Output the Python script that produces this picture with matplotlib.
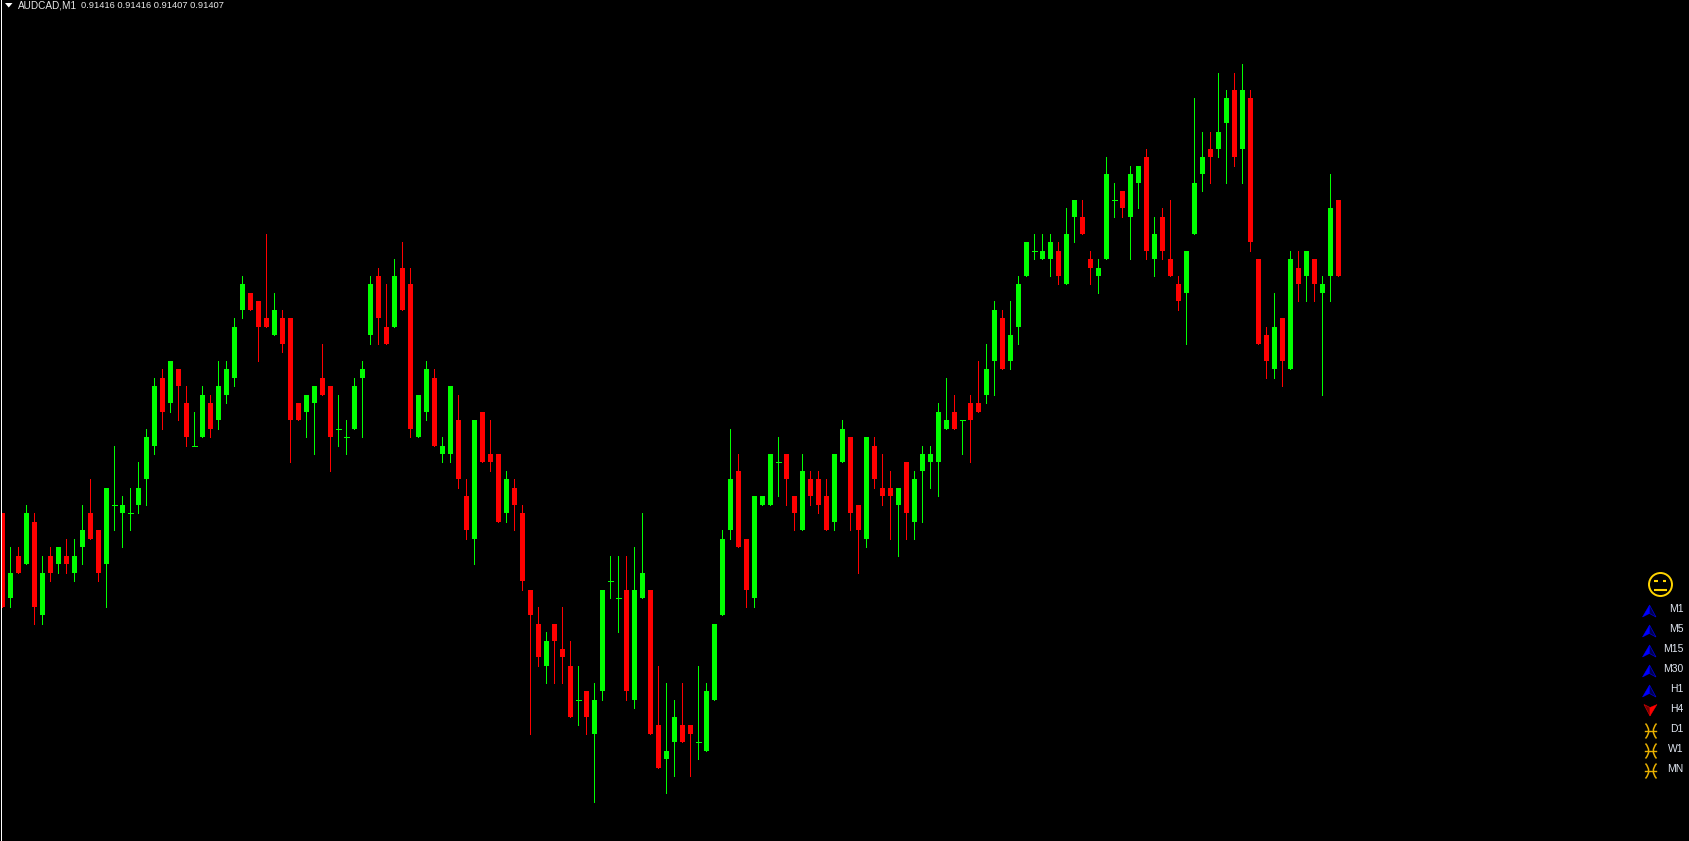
import numpy as np
import matplotlib
matplotlib.use("Agg")
import matplotlib.pyplot as plt
from matplotlib.patches import Circle, Polygon, PathPatch
from matplotlib.path import Path

# prices in points (0.91407 -> 91407), one minute bars
opens = [91379, 91369, 91374, 91373, 91378, 91367, 91374, 91373, 91374, 91372, 91375, 91379,
         91377, 91373, 91380, 91379, 91379, 91380, 91383, 91387, 91395, 91392, 91396, 91392,
         91387, 91388, 91392, 91390, 91393, 91395, 91403, 91405, 91404, 91402, 91400, 91402,
         91402, 91392, 91391, 91392, 91395, 91394, 91389, 91388, 91389, 91395, 91400, 91407,
         91401, 91401, 91408, 91406, 91388, 91391, 91395, 91386, 91386, 91390, 91381, 91376,
         91391, 91386, 91386, 91379, 91382, 91379, 91370, 91366, 91361, 91366, 91363, 91361,
         91357, 91358, 91353, 91358, 91371, 91369, 91370, 91357, 91369, 91370, 91354, 91350,
         91352, 91354, 91354, 91352, 91351, 91357, 91367, 91377, 91384, 91376, 91369, 91380,
         91380, 91385, 91386, 91381, 91377, 91383, 91383, 91381, 91378, 91385, 91388, 91380,
         91376, 91387, 91382, 91382, 91380, 91385, 91378, 91384, 91385, 91385, 91389, 91391,
         91390, 91392, 91392, 91393, 91397, 91402, 91397, 91401, 91407, 91410, 91409, 91409,
         91410, 91406, 91414, 91414, 91409, 91407, 91409, 91416, 91417, 91414, 91418, 91421,
         91409, 91414, 91409, 91406, 91405, 91412, 91419, 91422, 91422, 91425, 91429, 91422,
         91428, 91409, 91400, 91396, 91402, 91396, 91408, 91407, 91409, 91405, 91407, 91416]
highs = [91379, 91375, 91375, 91380, 91379, 91374, 91375, 91375, 91376, 91376, 91380, 91383,
         91377, 91382, 91387, 91381, 91382, 91385, 91389, 91395, 91396, 91397, 91396, 91394,
         91391, 91394, 91393, 91397, 91397, 91402, 91407, 91405, 91404, 91412, 91405, 91403,
         91402, 91392, 91393, 91394, 91399, 91394, 91393, 91390, 91395, 91397, 91407, 91408,
         91406, 91409, 91411, 91408, 91393, 91397, 91396, 91388, 91394, 91393, 91383, 91390,
         91391, 91390, 91386, 91384, 91383, 91380, 91370, 91368, 91365, 91366, 91368, 91364,
         91361, 91358, 91359, 91370, 91374, 91374, 91374, 91375, 91379, 91370, 91361, 91359,
         91357, 91359, 91354, 91361, 91359, 91366, 91377, 91389, 91386, 91376, 91381, 91381,
         91386, 91388, 91386, 91381, 91386, 91384, 91384, 91383, 91386, 91390, 91388, 91380,
         91388, 91388, 91386, 91384, 91382, 91385, 91384, 91387, 91387, 91392, 91395, 91393,
         91390, 91393, 91397, 91399, 91404, 91403, 91404, 91407, 91411, 91412, 91412, 91412,
         91411, 91415, 91416, 91416, 91410, 91409, 91421, 91418, 91417, 91420, 91420, 91422,
         91414, 91415, 91416, 91407, 91410, 91428, 91424, 91424, 91431, 91429, 91431, 91432,
         91429, 91409, 91401, 91405, 91402, 91410, 91410, 91410, 91409, 91407, 91419, 91416]
lows = [91368, 91368, 91372, 91373, 91366, 91366, 91371, 91372, 91372, 91371, 91373, 91376,
        91371, 91368, 91377, 91375, 91377, 91379, 91380, 91386, 91389, 91391, 91390, 91387,
        91387, 91388, 91388, 91389, 91392, 91394, 91402, 91403, 91397, 91401, 91400, 91398,
        91385, 91390, 91388, 91386, 91393, 91384, 91387, 91386, 91389, 91388, 91399, 91399,
        91399, 91401, 91403, 91388, 91388, 91390, 91387, 91385, 91385, 91382, 91376, 91373,
        91385, 91384, 91378, 91378, 91377, 91370, 91353, 91361, 91359, 91359, 91359, 91355,
        91354, 91353, 91345, 91357, 91369, 91365, 91357, 91356, 91369, 91353, 91349, 91346,
        91348, 91352, 91348, 91350, 91351, 91357, 91367, 91376, 91375, 91368, 91368, 91380,
        91380, 91381, 91380, 91377, 91377, 91380, 91379, 91377, 91377, 91385, 91377, 91372,
        91375, 91382, 91380, 91376, 91374, 91376, 91376, 91378, 91382, 91381, 91389, 91389,
        91386, 91385, 91391, 91392, 91393, 91396, 91396, 91399, 91407, 91409, 91409, 91407,
        91406, 91406, 91411, 91412, 91406, 91405, 91409, 91414, 91414, 91409, 91415, 91409,
        91407, 91409, 91407, 91403, 91399, 91412, 91417, 91418, 91421, 91418, 91420, 91418,
        91410, 91399, 91395, 91395, 91394, 91396, 91404, 91404, 91404, 91393, 91404, 91407]
closes = [91368, 91372, 91372, 91379, 91368, 91372, 91372, 91375, 91373, 91374, 91377, 91376,
          91372, 91382, 91380, 91380, 91379, 91382, 91388, 91394, 91391, 91397, 91394, 91388,
          91387, 91393, 91389, 91394, 91396, 91401, 91406, 91403, 91401, 91401, 91403, 91399,
          91390, 91390, 91393, 91394, 91393, 91388, 91389, 91388, 91394, 91396, 91406, 91402,
          91399, 91407, 91403, 91389, 91393, 91396, 91387, 91387, 91394, 91383, 91377, 91390,
          91385, 91385, 91378, 91383, 91380, 91371, 91367, 91362, 91364, 91364, 91362, 91355,
          91357, 91355, 91357, 91370, 91371, 91369, 91358, 91370, 91372, 91353, 91349, 91351,
          91355, 91352, 91353, 91352, 91358, 91366, 91376, 91383, 91375, 91370, 91381, 91381,
          91386, 91385, 91383, 91379, 91384, 91381, 91380, 91377, 91386, 91389, 91379, 91377,
          91388, 91383, 91381, 91381, 91382, 91379, 91383, 91386, 91386, 91391, 91390, 91389,
          91390, 91390, 91391, 91396, 91403, 91396, 91400, 91406, 91411, 91410, 91410, 91411,
          91407, 91412, 91416, 91412, 91408, 91408, 91419, 91416, 91415, 91419, 91420, 91410,
          91412, 91410, 91407, 91404, 91410, 91418, 91421, 91421, 91424, 91428, 91421, 91429,
          91411, 91399, 91397, 91401, 91397, 91409, 91406, 91410, 91406, 91406, 91415, 91407]

symbol = "AUDCAD,M1"
header_ohlc = ["0.91416", "0.91416", "0.91407", "0.91407"]
timeframes = ["M1", "M5", "M15", "M30", "H1", "H4", "D1", "W1", "MN"]
signals = ["up", "up", "up", "up", "up", "down", "flat", "flat", "flat"]

W, H = 1690, 841
BAR_PX = 8
PT_PX = 8.477

opens = np.array(opens) / 1e5
highs = np.array(highs) / 1e5
lows = np.array(lows) / 1e5
closes = np.array(closes) / 1e5
idx = np.arange(len(opens))

fig = plt.figure(figsize=(W / 100, H / 100), dpi=100, facecolor="black")

# price axes, starts right of the white line
# 0.4 px offset so the 1 px wicks snap onto the middle column of the body
ax = fig.add_axes([2 / W, 0, (W - 2) / W, 1], facecolor="black")
ax.set_xlim(-0.4 / BAR_PX, (W - 2.4) / BAR_PX)
ax.set_ylim(0.91407 - (H - 276) / PT_PX / 1e5, 0.91407 + 276 / PT_PX / 1e5)
ax.axis("off")

up = closes > opens
down = closes < opens
doji = closes == opens
px_w = 5 / BAR_PX

for mask, col in [(up | doji, "#00FF00"), (down, "#FF0000")]:
    ax.vlines(idx[mask], lows[mask], highs[mask], colors=col, linewidth=0.72, antialiased=False)
    body = mask & ~doji
    ax.bar(idx[body], np.abs(closes[body] - opens[body]), bottom=np.minimum(opens, closes)[body],
           width=px_w, color=col, linewidth=0, antialiased=False)
ax.hlines(opens[doji], idx[doji] - px_w / 2, idx[doji] + px_w / 2, colors="#00FF00",
          linewidth=0.72, antialiased=False)

# overlay in pixels for the panel and the header
ov = fig.add_axes([0, 0, 1, 1], facecolor="none")
ov.set_xlim(0, W)
ov.set_ylim(H, 0)
ov.axis("off")

ov.plot([1.4, 1.4], [0, H], color="white", linewidth=0.72, antialiased=False)

ov.add_patch(Polygon([[5, 3], [12.5, 3], [8.75, 7.5]], closed=True, color="white", linewidth=0))
ov.text(18, 5, symbol, color="#E8E8E8", fontsize=7.2, family="Liberation Sans", va="center", ha="left")
ov.text(81, 5, " ".join(header_ohlc), color="#E8E8E8", fontsize=6.7, family="Liberation Sans",
        va="center", ha="left")

# smiley
yellow = "#FFD400"
ov.add_patch(Circle((1660.5, 584.5), 11.5, fill=False, edgecolor=yellow, linewidth=1.4))
ov.plot([1654.5, 1658], [581, 581], color=yellow, linewidth=1.5, solid_capstyle="butt")
ov.plot([1663, 1666.5], [581, 581], color=yellow, linewidth=1.5, solid_capstyle="butt")
ov.plot([1654, 1667], [589.5, 589.5], color=yellow, linewidth=1.5, solid_capstyle="butt")


def up_arrow(y):
    ov.add_patch(Polygon([[1649.5, y - 12], [1642.5, y], [1649.5, y - 3.5]], closed=True,
                         facecolor="#0000FF", edgecolor="#0000FF", linewidth=0.3))
    ov.add_patch(Polygon([[1649.5, y - 12], [1649.5, y - 3.5], [1656, y]], closed=True,
                         facecolor="#000050", edgecolor="#0000E0", linewidth=0.5))


def down_arrow(y):
    ov.add_patch(Polygon([[1650, y + 5], [1644, y - 6.5], [1650, y - 3.5]], closed=True,
                         facecolor="#700000", edgecolor="#D00000", linewidth=0.5))
    ov.add_patch(Polygon([[1650, y + 5], [1650, y - 3.5], [1657, y - 6.5]], closed=True,
                         facecolor="#FF0000", edgecolor="#FF0000", linewidth=0.3))


def pisces(y):
    col = "#E8B000"
    for x0, x1 in [(1645.5, 1652), (1656.5, 1650)]:
        verts = [(x0, y - 7.5), (x1, y), (x0, y + 7.5)]
        ov.add_patch(PathPatch(Path(verts, [Path.MOVETO, Path.CURVE3, Path.CURVE3]),
                               fill=False, edgecolor=col, linewidth=1.1))
    ov.plot([1645, 1656], [y, y], color=col, linewidth=1.0)


for i, (tf, sig) in enumerate(zip(timeframes, signals)):
    y = 608 + 20 * i
    ov.text(1683.5, y + 1, tf, color="#E0E6F0", fontsize=7.5, family="Liberation Sans", ha="right", va="center")
    if sig == "up":
        up_arrow(y + 9)
    elif sig == "down":
        down_arrow(y + 3)
    else:
        pisces(y + 3)

fig.savefig("out.png", dpi=100, facecolor="black")
plt.close(fig)
